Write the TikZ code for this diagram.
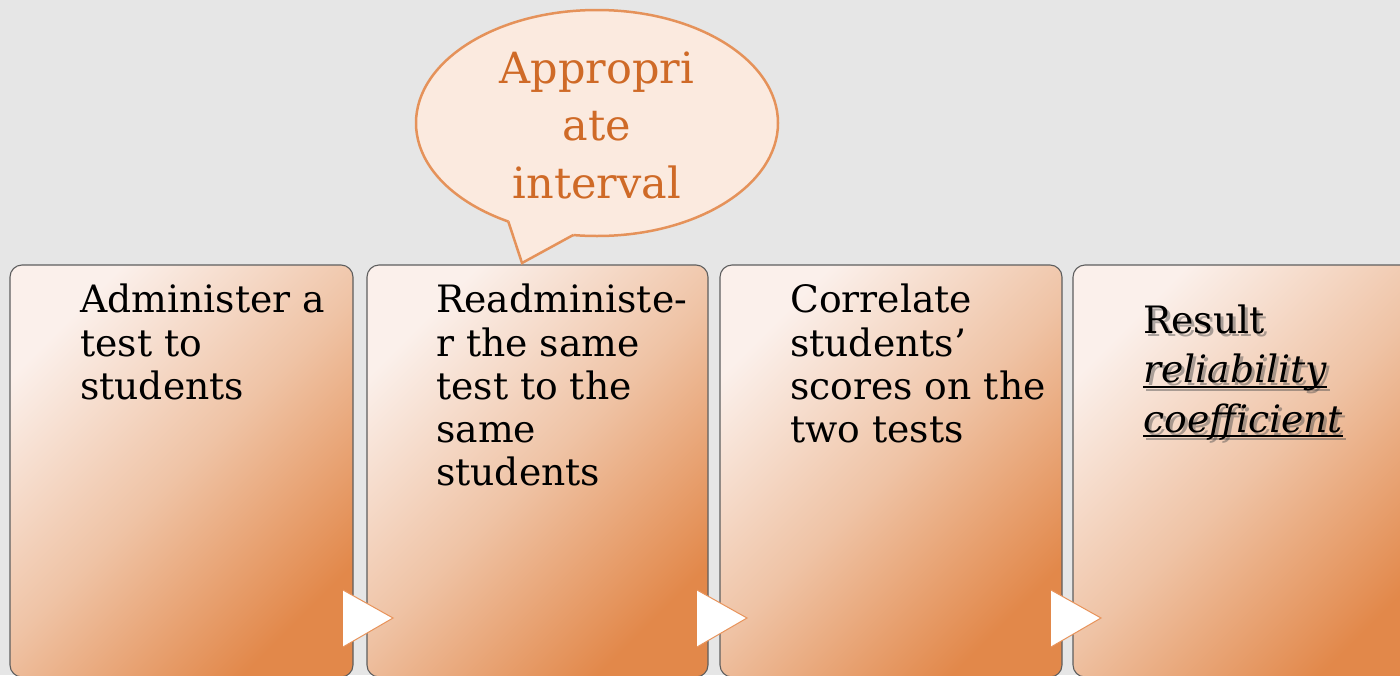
\documentclass[tikz,border=0pt]{standalone}
\usepackage{fontspec}
\setmainfont{DejaVu Serif}
\usetikzlibrary{calc,shapes.geometric}
\definecolor{bg}{HTML}{E6E6E6}
\definecolor{boxlight}{HTML}{FBF0EB}
\definecolor{boxmid}{HTML}{EFC3A5}
\definecolor{boxdark}{HTML}{E2884A}
\definecolor{boxline}{HTML}{5E5E5E}
\definecolor{bubblefill}{HTML}{FBEADF}
\definecolor{bubbleline}{HTML}{E5925A}
\definecolor{bubbletext}{HTML}{CF6A27}
\definecolor{arrowline}{HTML}{E8935A}
\newcommand\thickul[1]{\setbox0\hbox{#1}\rlap{\rule[-5pt]{\wd0}{2pt}}\box0}
\begin{document}
\begin{tikzpicture}[x=1pt,y=-1pt,
  stepbox/.style={draw=boxline, line width=1.1pt, rounded corners=12pt,
    top color=boxlight, bottom color=boxdark, middle color=boxmid,
    shading angle=45, inner sep=0pt, outer sep=0pt, anchor=north west,
    minimum height=412pt},
  steptext/.style={anchor=north west, align=left, inner sep=0pt,
    font=\fontsize{37.7}{43.3}\selectfont, text=black},
  resulttext/.style={anchor=north west, align=left, inner sep=0pt,
    font=\fontsize{37.7}{49.5}\selectfont, text=black},
  bubble/.style={ellipse, fill=bubblefill, draw=bubbleline, line width=2.5pt,
    inner sep=0pt, outer sep=0pt, minimum width=362pt, minimum height=226pt},
  bubbletxt/.style={anchor=north, align=center, inner sep=0pt,
    font=\fontsize{43}{57.5}\selectfont, text=bubbletext},
  arrowtri/.style={fill=white},
  arrowedge/.style={draw=arrowline, line width=1pt, line join=miter}
]
\useasboundingbox (0,0) rectangle (1400,675);
\clip (0,0) rectangle (1400,675);
\fill[bg] (0,0) rectangle (1400,675);

% step boxes
\node[stepbox, minimum width=343pt] (b1) at (10,265) {};
\node[stepbox, minimum width=341pt] (b2) at (367,265) {};
\node[stepbox, minimum width=342pt] (b3) at (720,265) {};
\node[stepbox, minimum width=360pt] (b4) at (1073,265) {};

% texts
\node[steptext] (t1) at (80,282.2) {\strut Administer a\\test to\\students};
\node[steptext] (t2) at (436,282.2) {\strut Readministe-\\r the same\\test to the\\same\\students};
\node[steptext] (t3) at (790,282.2) {\strut Correlate\\students’\\scores on the\\two tests};
\node[resulttext, text=black!70, opacity=0.45] at (1146,301.4) {\strut Result\\\thickul{\itshape reliability}\\\thickul{\itshape coefficient}};
\node[resulttext] (t4) at (1143,298.4) {\strut Result\\\thickul{\itshape reliability}\\\thickul{\itshape coefficient}};

% arrow triangles
\foreach \x in {343,697,1051}{
  \fill[arrowtri] (\x,590) -- (\x+50,618) -- (\x,647) -- cycle;
  \draw[arrowedge] (\x,590) -- (\x+50,618) -- (\x,647);
}

% speech bubble
\node[bubble] (bub) at (597,123) {};
\coordinate (tip) at (522,263);
\fill[bubblefill] (bub.228) -- (tip) -- (bub.258) -- (bub.center) -- cycle;
\draw[draw=bubbleline, line width=2.5pt, line join=miter] (bub.228) -- (tip) -- (bub.258);
\node[bubbletxt] (bt) at (597,42.75) {\strut Appropri\\ate\\interval};
\end{tikzpicture}
\end{document}
